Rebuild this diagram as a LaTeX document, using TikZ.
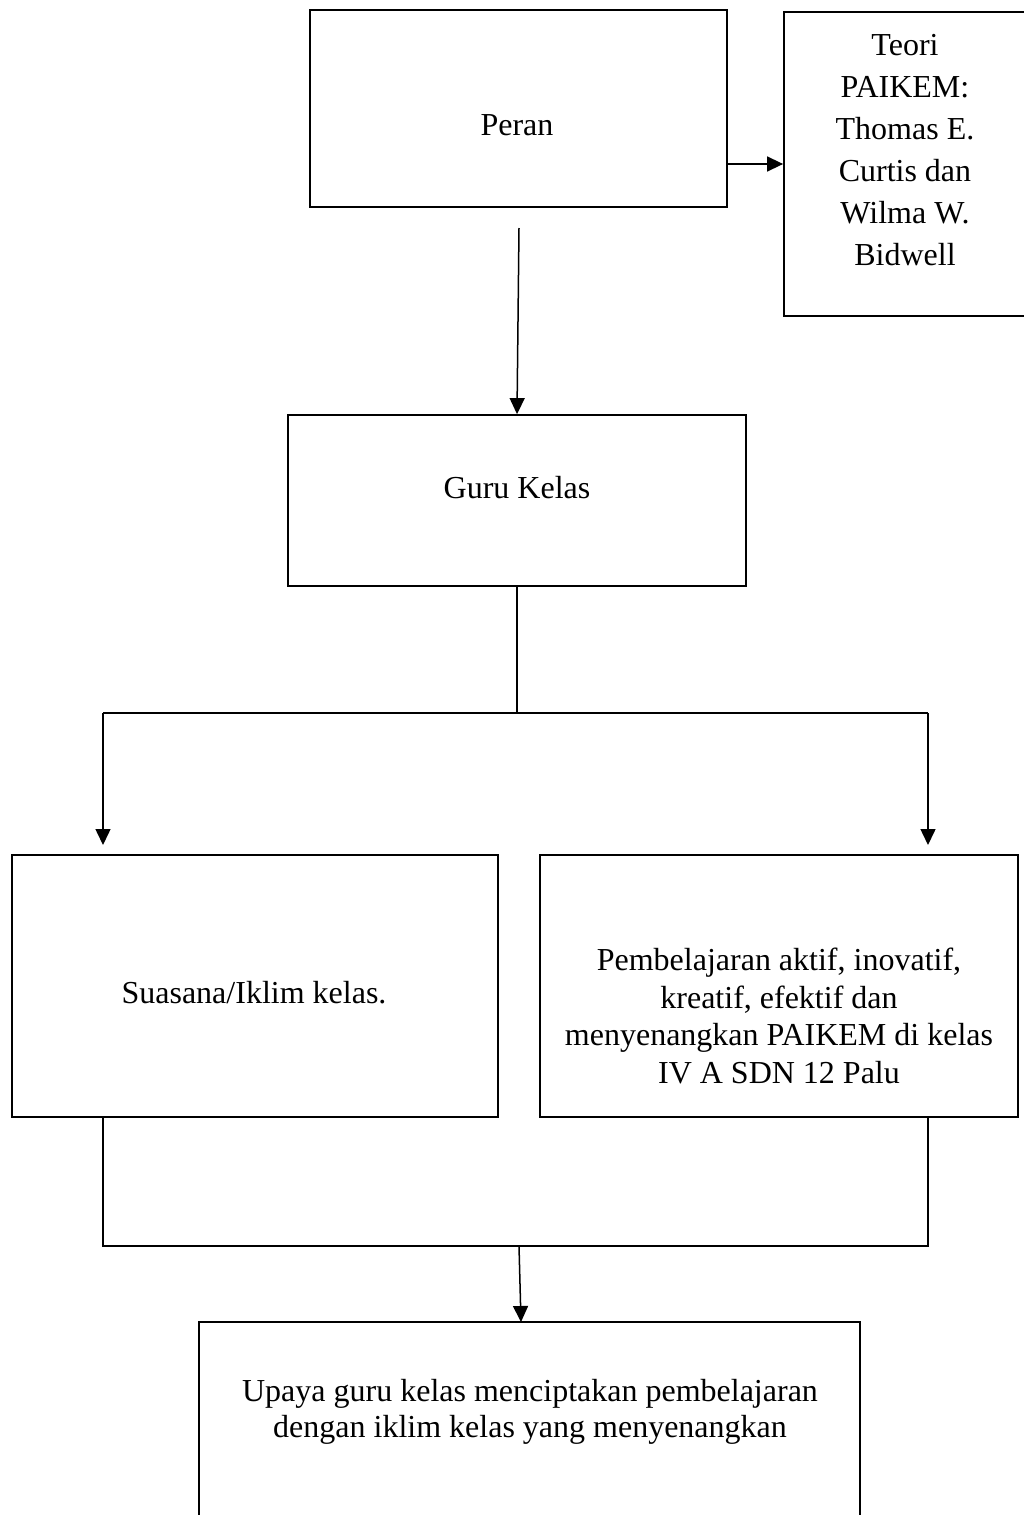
\documentclass[tikz,border=0pt]{standalone}
\usepackage{fontspec}
\setmainfont{Liberation Serif}
\usetikzlibrary{arrows.meta}
\begin{document}
\begin{tikzpicture}[x=1pt,y=-1pt,
  box/.style={draw,line width=1.8pt,inner sep=0pt},
  conn/.style={line width=1.5pt},
  arr/.style={conn,-{Triangle[length=16pt,width=15pt]}},
  txt/.style={align=center,inner sep=0pt,font=\fontsize{32}{42}\selectfont}]
\useasboundingbox (0,0) rectangle (1024,1515);
\clip (0,0) rectangle (1024,1515);
% boxes
\node[box,minimum width=417pt,minimum height=197pt] (peran) at (518.5,108.5) {};
\node[box,minimum width=246pt,minimum height=304pt] (teori) at (907,164) {};
\node[box,minimum width=458pt,minimum height=171pt] (guru) at (517,500.5) {};
\node[box,minimum width=486pt,minimum height=262pt] (left) at (255,986) {};
\node[box,minimum width=478pt,minimum height=262pt] (right) at (779,986) {};
\node[box,minimum width=661pt,minimum height=240pt] (bot) at (529.5,1442) {};
% texts
\node[txt] (peranT) at (517,125) {Peran};
\node[txt] (teoriT) at (905,150) {Teori\\PAIKEM:\\Thomas E.\\Curtis dan\\Wilma W.\\Bidwell};
\node[txt] (guruT) at (517,488) {Guru Kelas};
\node[txt] (leftT) at (254,993) {Suasana/Iklim kelas.};
\node[txt,font=\fontsize{32}{37.5}\selectfont] (rightT) at (779,1016) {Pembelajaran aktif, inovatif,\\kreatif, efektif dan\\menyenangkan PAIKEM di kelas\\IV A SDN 12 Palu};
\node[txt,font=\fontsize{32}{36}\selectfont] (botT) at (530,1412) {Upaya guru kelas menciptakan pembelajaran\\dengan iklim kelas yang menyenangkan};
% coordinates
\coordinate (p1) at (519,228);
\coordinate (jL) at (103,713);
\coordinate (jR) at (928,713);
\coordinate (jM) at (guru.south |- jL);
\coordinate (aL) at (103,845);
\coordinate (aR) at (928,845);
\coordinate (mL) at (left.south -| jL);
\coordinate (mR) at (right.south -| jR);
\coordinate (mLb) at (103,1246);
\coordinate (mRb) at (928,1246);
\coordinate (mM) at (519,1246);
\coordinate (bt) at (521,1322);
% connectors
\draw[arr] (teori.west -| peran.east) -- (teori.west);
\draw[arr] (p1) -- (guru.north);
\draw[conn] (guru.south) -- (jM);
\draw[conn] (jL) -- (jR);
\draw[arr] (jL) -- (aL);
\draw[arr] (jR) -- (aR);
\draw[conn] (mL) -- (mLb) -- (mRb) -- (mR);
\draw[arr] (mM) -- (bt);
\end{tikzpicture}
\end{document}
